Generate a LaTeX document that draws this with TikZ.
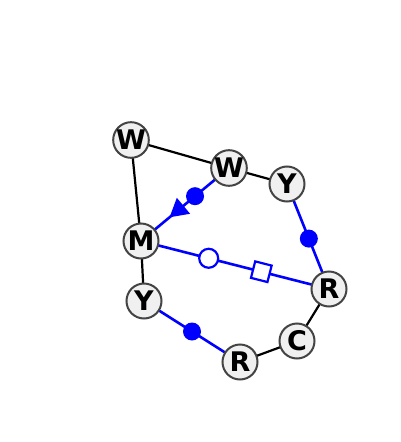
\documentclass[tikz,border=0pt]{standalone}
\usepackage{fontspec}
\setmainfont{DejaVu Sans}
\usetikzlibrary{shapes.geometric,backgrounds}
\definecolor{nodefill}{HTML}{F0F0F0}
\definecolor{nodeline}{HTML}{444444}
\tikzset{
  atom/.style={circle,draw=nodeline,fill=nodefill,line width=2pt,minimum size=35pt,inner sep=0pt,font=\fontsize{27}{27}\selectfont\bfseries},
  plain/.style={draw=black,line width=2.2pt},
  blueline/.style={draw=blue,line width=2.6pt},
  fdot/.style={circle,fill=blue,draw=none,minimum size=18pt,inner sep=0pt},
  odot/.style={circle,fill=white,draw=blue,line width=2.2pt,minimum size=19pt,inner sep=0pt},
  osq/.style={rectangle,fill=white,draw=blue,line width=2.2pt,minimum size=17pt,inner sep=0pt,sloped},
  tri/.style={isosceles triangle,isosceles triangle apex angle=60,fill=blue,draw=none,minimum height=18pt,minimum width=19pt,inner sep=0pt,sloped,allow upside down}
}
\begin{document}
\begin{tikzpicture}[x=1pt,y=-1pt]
\useasboundingbox (0,0) rectangle (400,442);
\node[atom] (W1) at (131,140) {W};
\node[atom] (W2) at (229,168) {W};
\node[atom] (Y1) at (287,184) {Y};
\node[atom] (M) at (141,241) {M};
\node[atom] (R1) at (329,289) {R};
\node[atom] (Y2) at (144,301) {Y};
\node[atom] (C) at (297,341) {C};
\node[atom] (R2) at (240,362) {R};
\begin{scope}[on background layer]
\draw[plain] (W1.center) -- (W2.center);
\draw[plain] (W2.center) -- (Y1.center);
\draw[plain] (W1.center) -- (M.center);
\draw[plain] (M.center) -- (Y2.center);
\draw[plain] (R2.center) -- (C.center);
\draw[plain] (C.center) -- (R1.center);
\draw[blueline] (Y1.center) -- node[fdot,pos=0.52]{} (R1.center);
\draw[blueline] (Y2.center) -- node[fdot,pos=0.5]{} (R2.center);
\draw[blueline] (W2.center) -- node[fdot,pos=0.386]{} node[tri,pos=0.57]{} (M.center);
\draw[blueline] (M.center) -- node[odot,pos=0.36]{} node[osq,pos=0.64]{} (R1.center);
\end{scope}
\end{tikzpicture}
\end{document}
